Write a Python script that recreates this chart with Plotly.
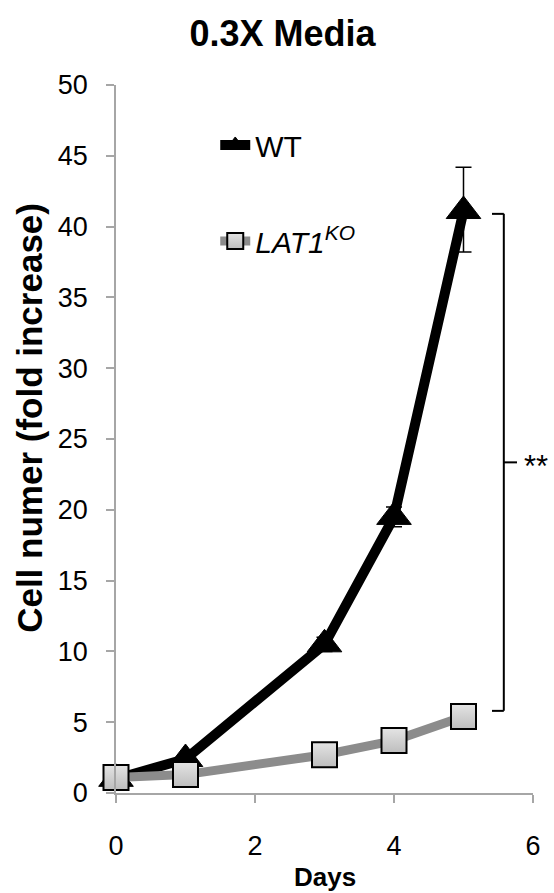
import plotly.graph_objects as go

# ---- data ----
days = [0, 1, 3, 4, 5]
wt = [1.0, 2.4, 10.5, 19.5, 41.1]
wt_err_plus = [0.2, 0.3, 0.5, 0.7, 3.1]
wt_err_minus = [0.2, 0.3, 0.5, 0.7, 2.9]
ko = [1.1, 1.3, 2.7, 3.7, 5.4]
x_ticks = [0, 2, 4, 6]
y_ticks = [0, 5, 10, 15, 20, 25, 30, 35, 40, 45, 50]
series_names = ["WT", "<i>LAT1<sup>KO</sup></i>"]
title_text = "0.3X Media"
y_title = "Cell numer (fold increase)"
x_title = "Days"
sig_label = "**"

FONT = "Liberation Sans, Arial, sans-serif"
AXIS_COLOR = "#a6a6a6"

fig = go.Figure()

fig.add_trace(go.Scatter(
    x=days, y=wt, name=series_names[0], mode="lines+markers",
    line=dict(color="black", width=10),
    marker=dict(symbol="triangle-up", size=30, color="black",
                line=dict(color="black", width=1)),
    error_y=dict(type="data", array=wt_err_plus, arrayminus=wt_err_minus,
                 color="black", thickness=1.5, width=8, visible=True),
    cliponaxis=False, legendgroup="a",
))
fig.add_trace(go.Scatter(
    x=days, y=ko, name=series_names[1], mode="lines+markers",
    line=dict(color="#8c8c8c", width=9),
    marker=dict(symbol="square", size=25, color="#e4e4e4",
                gradient=dict(type="vertical", color="#bdbdbd"),
                line=dict(color="black", width=2)),
    cliponaxis=False, legendgroup="b",
))

# significance bracket between final WT and KO values
bx = 5.58
top = wt[-1] - 0.2
bot = ko[-1] + 0.4
mid = (top + bot) / 2
line_style = dict(color="black", width=2)
fig.add_shape(type="line", xref="x", yref="y", x0=bx, x1=bx, y0=bot, y1=top, line=line_style)
fig.add_shape(type="line", xref="x", yref="y", x0=bx - 0.17, x1=bx, y0=top, y1=top, line=line_style)
fig.add_shape(type="line", xref="x", yref="y", x0=bx - 0.17, x1=bx, y0=bot, y1=bot, line=line_style)
fig.add_shape(type="line", xref="x", yref="y", x0=bx, x1=bx + 0.19, y0=mid, y1=mid, line=line_style)
fig.add_annotation(x=bx + 0.26, y=mid - 0.3, xref="x", yref="y", text=sig_label,
                   showarrow=False, xanchor="left", yanchor="middle",
                   font=dict(family=FONT, size=31, color="black"))

# y-axis title
fig.add_annotation(x=-0.206, y=0.53, xref="paper", yref="paper",
                   text="<b>%s</b>" % y_title, textangle=-90, showarrow=False,
                   xanchor="center", yanchor="middle",
                   font=dict(family=FONT, size=35, color="black"))
# x-axis title
fig.add_annotation(x=0.5, y=-0.119, xref="paper", yref="paper",
                   text="<b>%s</b>" % x_title, showarrow=False,
                   xanchor="center", yanchor="middle",
                   font=dict(family=FONT, size=26, color="black"))

fig.update_layout(
    width=554, height=893, autosize=False,
    margin=dict(l=116, r=21, t=85, b=100),
    paper_bgcolor="white", plot_bgcolor="white",
    title=dict(text="<b>%s</b>" % title_text, x=0.51, xanchor="center",
               y=1 - 33 / 893, yanchor="middle", yref="container",
               font=dict(family=FONT, size=36, color="black")),
    showlegend=True,
    legend=dict(x=0.238, y=0.952, xanchor="left", yanchor="top",
                font=dict(family=FONT, size=30, color="black"),
                bgcolor="rgba(0,0,0,0)", tracegroupgap=54,
                itemsizing="trace"),
    xaxis=dict(range=[0, 6], tickvals=x_ticks, showgrid=False, zeroline=False,
               showline=True, linecolor=AXIS_COLOR, linewidth=1.5,
               ticks="outside", ticklen=8, tickwidth=1.5, tickcolor=AXIS_COLOR,
               tickfont=dict(family=FONT, size=27, color="black"),
               ticklabelstandoff=20),
    yaxis=dict(range=[0, 50], tickvals=y_ticks, showgrid=False, zeroline=False,
               showline=True, linecolor=AXIS_COLOR, linewidth=1.5,
               ticks="outside", ticklen=8, tickwidth=1.5, tickcolor=AXIS_COLOR,
               tickfont=dict(family=FONT, size=27, color="black"),
               ticklabelstandoff=13),
)

fig.write_html("out.html", config={"displayModeBar": False},
               post_script="document.body.style.margin='0px';")
